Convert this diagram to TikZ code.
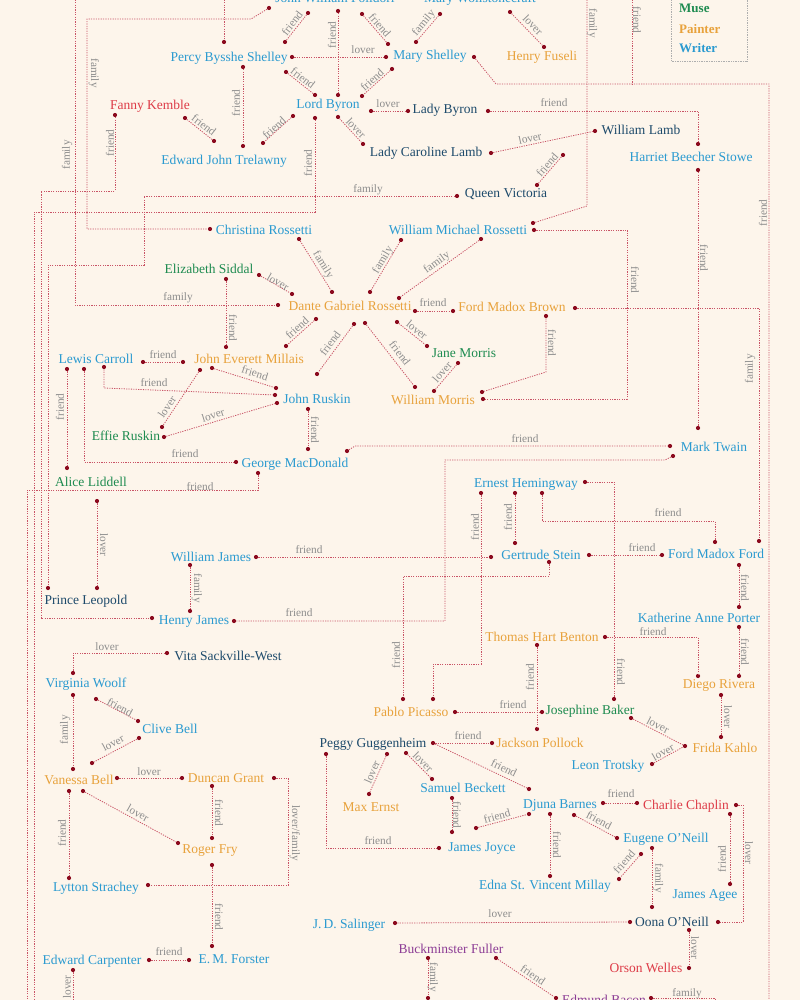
\documentclass[tikz,border=0pt]{standalone}
\usepackage{fontspec}
\setmainfont{Liberation Serif}

\definecolor{cBg}{HTML}{FDF5EB}
\definecolor{cLine}{HTML}{C95466}
\definecolor{cDot}{HTML}{8B0A1E}
\definecolor{cLabel}{HTML}{8C8C8C}
\definecolor{cWriter}{HTML}{2A9AD0}
\definecolor{cPainter}{HTML}{E8A23C}
\definecolor{cMuse}{HTML}{1E8B50}
\definecolor{cNoble}{HTML}{1D4A6B}
\definecolor{cActor}{HTML}{DD3B47}
\definecolor{cBuilder}{HTML}{8C3C95}

\newcommand\mkdot[2]{\node[rdot] (#1) at (#2) {};}

\begin{document}
\begin{tikzpicture}[x=1pt,y=-1pt]

		\useasboundingbox (0,0) rectangle (800,1000);
		\fill[cBg] (0,0) rectangle (800,1000);
		\clip (0,0) rectangle (800,1000);

		\tikzset{person/.style = {anchor = base, inner sep = 0pt, font = \fontsize{13.5}{16}\selectfont}}
		\tikzset{writer/.style = {person, text = cWriter}}
		\tikzset{painter/.style = {person, text = cPainter}}
		\tikzset{muse/.style = {person, text = cMuse}}
		\tikzset{noble/.style = {person, text = cNoble}}
		\tikzset{actor/.style = {person, text = cActor}}
		\tikzset{builder/.style = {person, text = cBuilder}}
		\tikzset{rdot/.style = {circle, fill = cDot, inner sep = 0pt, minimum size = 4.2pt}}
		\tikzset{rel/.style = {draw = cLine, line width = 0.8pt, dash pattern = on 1.2pt off 1.2pt}} % fine dots
		\tikzset{lbl/.style = {text = cLabel, inner sep = 0pt, font = \fontsize{11.3}{13}\selectfont}}
		\tikzset{key/.style = {anchor = base west, inner sep = 0pt, font = \fontsize{13}{15}\selectfont\bfseries}}

		% legend
		\draw[cLabel!70, densely dotted, line width = 0.7pt] (671,-20) rectangle (747,61);
		\node[key, text = cMuse] (kmuse) at (679,13) {Muse};
		\node[key, text = cPainter] (kpainter) at (679,34) {Painter};
		\node[key, text = cWriter] (kwriter) at (679,53) {Writer};

		% people
		\node[writer] (polidori) at (335,3) {John William Polidori};
		\node[writer] (wollstonecraft) at (480,3) {Mary Wollstonecraft};
		\node[writer] (pshelley) at (229,62) {Percy Bysshe Shelley};
		\node[writer] (mshelley) at (430,60) {Mary Shelley};
		\node[painter] (fuseli) at (542,61) {Henry Fuseli};
		\node[writer] (byron) at (328,109) {Lord Byron};
		\node[noble] (ladybyron) at (445,114) {Lady Byron};
		\node[actor] (kemble) at (150,110) {Fanny Kemble};
		\node[writer] (trelawny) at (224,165) {Edward John Trelawny};
		\node[noble] (clamb) at (426,157) {Lady Caroline Lamb};
		\node[noble] (wlamb) at (641,135) {William Lamb};
		\node[writer] (stowe) at (691,162) {Harriet Beecher Stowe};
		\node[noble] (victoria) at (506,198) {Queen Victoria};
		\node[writer] (crossetti) at (264,234) {Christina Rossetti};
		\node[writer] (wmrossetti) at (458,234) {William Michael Rossetti};
		\node[muse] (siddal) at (209,273) {Elizabeth Siddal};
		\node[painter] (dgrossetti) at (350,310) {Dante Gabriel Rossetti};
		\node[painter] (fmbrown) at (512,311) {Ford Madox Brown};
		\node[writer] (carroll) at (96,363) {Lewis Carroll};
		\node[painter] (millais) at (249,363) {John Everett Millais};
		\node[muse] (jmorris) at (464,357) {Jane Morris};
		\node[writer] (ruskin) at (317,403) {John Ruskin};
		\node[painter] (wmorris) at (433,404) {William Morris};
		\node[muse] (effie) at (126,440) {Effie Ruskin};
		\node[writer] (macdonald) at (295,467) {George MacDonald};
		\node[writer] (twain) at (714,451) {Mark Twain};
		\node[muse] (liddell) at (91,486) {Alice Liddell};
		\node[writer] (hemingway) at (526,487) {Ernest Hemingway};
		\node[writer] (wjames) at (211,561) {William James};
		\node[writer] (stein) at (541,559) {Gertrude Stein};
		\node[writer] (fmford) at (716,558) {Ford Madox Ford};
		\node[noble] (leopold) at (86,604) {Prince Leopold};
		\node[writer] (hjames) at (194,624) {Henry James};
		\node[writer] (porter) at (699,622) {Katherine Anne Porter};
		\node[painter] (benton) at (542,641) {Thomas Hart Benton};
		\node[noble] (vita) at (228,660) {Vita Sackville-West};
		\node[writer] (woolf) at (86,687) {Virginia Woolf};
		\node[painter] (rivera) at (719,688) {Diego Rivera};
		\node[painter] (picasso) at (411,716) {Pablo Picasso};
		\node[muse] (baker) at (590,714) {Josephine Baker};
		\node[writer] (clive) at (170,733) {Clive Bell};
		\node[noble] (guggenheim) at (373,747) {Peggy Guggenheim};
		\node[painter] (pollock) at (540,747) {Jackson Pollock};
		\node[painter] (kahlo) at (725,752) {Frida Kahlo};
		\node[writer] (trotsky) at (608,769) {Leon Trotsky};
		\node[painter] (vbell) at (79,784) {Vanessa Bell};
		\node[painter] (grant) at (226,782) {Duncan Grant};
		\node[writer] (beckett) at (463,792) {Samuel Beckett};
		\node[painter] (ernst) at (371,811) {Max Ernst};
		\node[writer] (barnes) at (560,808) {Djuna Barnes};
		\node[actor] (chaplin) at (686,809) {Charlie Chaplin};
		\node[painter] (fry) at (210,853) {Roger Fry};
		\node[writer] (oneill) at (666,842) {Eugene O’Neill};
		\node[writer] (joyce) at (482,851) {James Joyce};
		\node[writer] (millay) at (545,889) {Edna St. Vincent Millay};
		\node[writer] (strachey) at (96,891) {Lytton Strachey};
		\node[writer] (agee) at (705,898) {James Agee};
		\node[writer] (salinger) at (349,928) {J.\,D. Salinger};
		\node[noble] (oona) at (672,926) {Oona O’Neill};
		\node[builder] (fuller) at (451,953) {Buckminster Fuller};
		\node[writer] (forster) at (234,963) {E.\,M. Forster};
		\node[writer] (carpenter) at (92,964) {Edward Carpenter};
		\node[actor] (welles) at (646,972) {Orson Welles};
		\node[builder] (bacon) at (604,1004) {Edmund Bacon};

		% dots
		\mkdot{polA}{269,8} \mkdot{pol1}{308,13} \mkdot{pol2}{338,11} \mkdot{pol3}{362,14}
		\mkdot{mw1}{440,14} \mkdot{mw2}{510,12}
		\mkdot{ps1}{224,42} \mkdot{ps2}{285,42} \mkdot{ps3}{292,57} \mkdot{ps4}{286,72} \mkdot{ps5}{243,67}
		\mkdot{ms1}{388,44} \mkdot{ms2}{416,42} \mkdot{ms3}{386,57} \mkdot{ms4}{392,69} \mkdot{ms5}{474,57}
		\mkdot{fu1}{544,47}
		\mkdot{by1}{338,95} \mkdot{by2}{315,95} \mkdot{by3}{362,96} \mkdot{by4}{371,111}
		\mkdot{by5}{338,117} \mkdot{by6}{293,116} \mkdot{by7}{315,118}
		\mkdot{lb1}{408,111} \mkdot{lb2}{488,111}
		\mkdot{cl1}{363,144} \mkdot{cl2}{491,153}
		\mkdot{wl1}{595,131} \mkdot{wl2}{563,155}
		\mkdot{qv1}{537,185} \mkdot{qv2}{457,196}
		\mkdot{hs1}{698,144} \mkdot{hs2}{698,170}
		\mkdot{et1}{263,143} \mkdot{et2}{243,146} \mkdot{et3}{214,141}
		\mkdot{fk1}{185,118} \mkdot{fk2}{115,115}
		\mkdot{crA}{210,229} \mkdot{cr2}{299,239}
		\mkdot{wm1}{533,223} \mkdot{wm2}{401,240} \mkdot{wm3}{481,239} \mkdot{wm4}{534,230}
		\mkdot{dgA}{278,305} \mkdot{dg1}{332,292} \mkdot{dg2}{370,292} \mkdot{dg3}{399,298}
		\mkdot{dg4}{292,294} \mkdot{dg5}{316,319} \mkdot{dg6}{354,324} \mkdot{dg7}{365,323}
		\mkdot{dg8}{397,322} \mkdot{dg9}{415,311}
		\mkdot{es1}{259,275} \mkdot{es2}{226,279}
		\mkdot{jm1}{226,347} \mkdot{jm2}{286,346} \mkdot{jm3}{183,362} \mkdot{jm4}{212,368} \mkdot{jm5}{200,370}
		\mkdot{jr1}{317,374} \mkdot{jr2}{275,395} \mkdot{jr3}{276,388} \mkdot{jr4}{277,403} \mkdot{jr5}{308,409}
		\mkdot{wo1}{415,387} \mkdot{wo2}{434,391} \mkdot{wo3}{482,392} \mkdot{wo4}{483,399}
		\mkdot{ja1}{427,346} \mkdot{ja2}{458,363}
		\mkdot{fb1}{453,311} \mkdot{fb2}{575,308} \mkdot{fb3}{546,316}
		\mkdot{lc1}{143,362} \mkdot{lc2}{104,367} \mkdot{lc3}{84,369} \mkdot{lc4}{67,369}
		\mkdot{ef1}{162,427} \mkdot{ef2}{164,437}
		\mkdot{gm1}{308,449} \mkdot{gm2}{236,462} \mkdot{gm3}{347,451} \mkdot{gm4}{258,473}
		\mkdot{mt1}{698,428} \mkdot{mt2}{670,446} \mkdot{mt3}{673,456}
		\mkdot{al1}{67,468} \mkdot{al2}{97,501}
		\mkdot{pl1}{48,588} \mkdot{pl2}{97,588}
		\mkdot{hj1}{152,618} \mkdot{hj2}{234,621} \mkdot{hj3}{190,611}
		\mkdot{wj1}{190,565} \mkdot{wj2}{256,557}
		\mkdot{gs1}{491,557} \mkdot{gs2}{515,543} \mkdot{gs3}{589,555} \mkdot{gs4}{549,562}
		\mkdot{eh1}{515,493} \mkdot{eh2}{481,493} \mkdot{eh3}{585,482} \mkdot{eh4}{542,493}
		\mkdot{ff1}{759,541} \mkdot{ff2}{715,542} \mkdot{ff3}{662,555} \mkdot{ff4}{739,565}
		\mkdot{kp1}{739,607} \mkdot{kp2}{739,627}
		\mkdot{dr1}{739,676} \mkdot{dr2}{698,676} \mkdot{dr3}{721,695}
		\mkdot{tb1}{605,637} \mkdot{tb2}{537,645}
		\mkdot{jp1}{537,729} \mkdot{jp2}{492,743}
		\mkdot{pp1}{433,699} \mkdot{pp2}{403,699} \mkdot{pp3}{455,712}
		\mkdot{jb1}{614,699} \mkdot{jb2}{542,712} \mkdot{jb3}{631,718}
		\mkdot{fr1}{721,737} \mkdot{fr2}{685,746}
		\mkdot{lt1}{652,764}
		\mkdot{pg1}{433,743} \mkdot{pg2}{387,754} \mkdot{pg3}{406,753} \mkdot{pg4}{326,754}
		\mkdot{db1}{529,789} \mkdot{db2}{529,814} \mkdot{db3}{550,814} \mkdot{db4}{574,815} \mkdot{db5}{603,803}
		\mkdot{me1}{369,794}
		\mkdot{sb1}{432,779} \mkdot{sb2}{452,798}
		\mkdot{jj1}{439,848} \mkdot{jj2}{452,832} \mkdot{jj3}{476,828}
		\mkdot{em1}{550,876} \mkdot{em2}{619,879}
		\mkdot{eo1}{617,838} \mkdot{eo2}{641,854} \mkdot{eo3}{652,848}
		\mkdot{cc1}{637,803} \mkdot{cc2}{730,814} \mkdot{cc3}{736,805}
		\mkdot{ag1}{730,884}
		\mkdot{oo1}{652,907} \mkdot{oo2}{718,922} \mkdot{oo3}{630,922} \mkdot{oo4}{689,930}
		\mkdot{js1}{395,923} \mkdot{ow1}{689,968}
		\mkdot{bf1}{428,958} \mkdot{bf2}{428,998} \mkdot{bf3}{496,958}
		\mkdot{eb1}{556,998} \mkdot{eb2}{651,998}
		\mkdot{vs1}{167,653}
		\mkdot{vw1}{73,673} \mkdot{vw2}{96,699} \mkdot{vw3}{73,695}
		\mkdot{cb1}{138,721} \mkdot{cb2}{139,738}
		\mkdot{vb1}{73,769} \mkdot{vb2}{92,763} \mkdot{vb3}{117,778} \mkdot{vb4}{83,791} \mkdot{vb5}{69,791}
		\mkdot{dn1}{182,778} \mkdot{dn2}{212,786} \mkdot{dn3}{274,778}
		\mkdot{rf1}{212,838} \mkdot{rf2}{178,843} \mkdot{rf3}{212,865}
		\mkdot{ls1}{69,878} \mkdot{ls2}{148,885}
		\mkdot{fo1}{212,946} \mkdot{fo2}{189,960}
		\mkdot{ec1}{149,960} \mkdot{ec2}{73,970}

		% free ends off the page
		\coordinate (topA) at (75,-5);
		\coordinate (topB) at (224,-5);
		\coordinate (topC) at (587,-5);
		\coordinate (topD) at (632,-5);
		\coordinate (botA) at (27,1005);
		\coordinate (botB) at (34,1005);
		\coordinate (botC) at (769,1005);
		\coordinate (botD) at (73,1005);
		\coordinate (botE) at (715,1005);

		% Romantics
		\draw[rel] (polA) -- (251,19) -- (87,19) -- (87,229) -- (crA) node[lbl, rotate=-90] at (94,73) {family};
		\draw[rel] (topA) -- (75,305) -- (dgA) node[lbl, rotate=90] at (67,155) {family} node[lbl] at (178,298) {family};
		\draw[rel] (topB) -- (ps1);
		\draw[rel] (pol1) -- (ps2) node[lbl, rotate=52] at (292,23) {friend};
		\draw[rel] (pol2) -- (by1) node[lbl, rotate=90] at (332,35) {friend};
		\draw[rel] (pol3) -- (ms1) node[lbl, rotate=-49] at (380,25) {friend};
		\draw[rel] (mw1) -- (ms2) node[lbl, rotate=50] at (424,23) {family};
		\draw[rel] (mw2) -- (fu1) node[lbl, rotate=-46] at (533,25) {lover};
		\draw[rel] (ps3) -- (ms3) node[lbl] at (363,50) {lover};
		\draw[rel] (ps4) -- (by2) node[lbl, rotate=-38] at (303,78) {friend};
		\draw[rel] (ms4) -- (by3) node[lbl, rotate=42] at (372,80) {friend};
		\draw[rel] (ms5) -- (496,84) -- (769,84) -- (botC) node[lbl, rotate=90] at (763,213) {friend};
		\draw[rel] (topD) -- (632,84) node[lbl, rotate=-90] at (637,20) {friend};
		\draw[rel] (topC) -- (587,206) -- (wm1) node[lbl, rotate=-90] at (592,23) {family};
		\draw[rel] (by4) -- (lb1) node[lbl] at (388,104) {lover};
		\draw[rel] (lb2) -- (698,111) -- (hs1) node[lbl] at (554,103) {friend};
		\draw[rel] (by5) -- (cl1) node[lbl, rotate=-47] at (356,128) {lover};
		\draw[rel] (cl2) -- (wl1) node[lbl, rotate=12] at (530,138) {lover};
		\draw[rel] (qv1) -- (wl2) node[lbl, rotate=49] at (547,165) {friend};
		\draw[rel] (hs2) -- (mt1) node[lbl, rotate=-90] at (704,258) {friend};
		\draw[rel] (by6) -- (et1) node[lbl, rotate=42] at (274,128) {friend};
		\draw[rel] (ps5) -- (et2) node[lbl, rotate=90] at (236,103) {friend};
		\draw[rel] (fk1) -- (et3) node[lbl, rotate=-38] at (204,125) {friend};
		\draw[rel] (fk2) -- (115,191) -- (41,191) -- (41,618) -- (hj1) node[lbl, rotate=90] at (110,143) {friend};
		\draw[rel] (by7) -- (315,212) -- (34,212) -- (botB) node[lbl, rotate=90] at (308,163) {friend};
		\draw[rel] (qv2) -- (144,196) -- (144,265) -- (48,265) -- (pl1) node[lbl] at (368,190) {family};

		% Pre-Raphaelites
		\draw[rel] (cr2) -- (dg1) node[lbl, rotate=-58] at (323,265) {family};
		\draw[rel] (wm2) -- (dg2) node[lbl, rotate=59] at (383,260) {family};
		\draw[rel] (wm3) -- (dg3) node[lbl, rotate=36] at (437,263) {family};
		\draw[rel] (es1) -- (dg4) node[lbl, rotate=-30] at (278,282) {lover};
		\draw[rel] (es2) -- (jm1) node[lbl, rotate=-90] at (233,328) {friend};
		\draw[rel] (dg5) -- (jm2) node[lbl, rotate=42] at (297,328) {friend};
		\draw[rel] (dg6) -- (jr1) node[lbl, rotate=53] at (330,343) {friend};
		\draw[rel] (dg7) -- (wo1) node[lbl, rotate=-52] at (400,353) {friend};
		\draw[rel] (dg8) -- (ja1) node[lbl, rotate=-39] at (417,330) {lover};
		\draw[rel] (ja2) -- (wo2) node[lbl, rotate=49] at (442,372) {lover};
		\draw[rel] (dg9) -- (fb1) node[lbl] at (433,303) {friend};
		\draw[rel] (fb2) -- (759,308) -- (ff1) node[lbl, rotate=90] at (750,369) {family};
		\draw[rel] (fb3) -- (546,372) -- (wo3) node[lbl, rotate=-90] at (552,343) {friend};
		\draw[rel] (wm4) -- (627,230) -- (627,399) -- (wo4) node[lbl, rotate=-90] at (635,280) {friend};
		\draw[rel] (lc1) -- (jm3) node[lbl] at (163,355) {friend};
		\draw[rel] (lc2) -- (104,388) -- (jr2) node[lbl] at (154,383) {friend};
		\draw[rel] (jm4) -- (jr3) node[lbl, rotate=-17] at (255,373) {friend};
		\draw[rel] (jm5) -- (ef1) node[lbl, rotate=56] at (167,407) {lover};
		\draw[rel] (ef2) -- (jr4) node[lbl, rotate=17] at (213,415) {lover};
		\draw[rel] (jr5) -- (gm1) node[lbl, rotate=-90] at (315,430) {friend};
		\draw[rel] (lc3) -- (84,462) -- (gm2) node[lbl] at (185,454) {friend};
		\draw[rel] (lc4) -- (al1) node[lbl, rotate=90] at (60,407) {friend};
		\draw[rel] (gm3) -- (355,446) -- (mt2) node[lbl] at (525,439) {friend};
		\draw[rel] (gm4) -- (258,490) -- (27,490) -- (botA) node[lbl] at (200,487) {friend};
		\draw[rel] (al2) -- (pl2) node[lbl, rotate=-90] at (104,545) {lover};

		% Americans in Paris
		\draw[rel] (mt3) -- (665,460) -- (445,460) -- (445,621) -- (hj2) node[lbl] at (299,613) {friend};
		\draw[rel] (wj1) -- (hj3) node[lbl, rotate=-90] at (197,588) {family};
		\draw[rel] (wj2) -- (gs1) node[lbl] at (309,550) {friend};
		\draw[rel] (eh1) -- (gs2) node[lbl, rotate=90] at (508,517) {friend};
		\draw[rel] (eh2) -- (481,664) -- (433,664) -- (pp1) node[lbl, rotate=90] at (475,527) {friend};
		\draw[rel] (eh3) -- (614,482) -- (jb1) node[lbl, rotate=-90] at (621,672) {friend};
		\draw[rel] (eh4) -- (542,521) -- (715,521) -- (ff2) node[lbl] at (668,513) {friend};
		\draw[rel] (gs3) -- (ff3) node[lbl] at (642,548) {friend};
		\draw[rel] (gs4) -- (549,576) -- (403,576) -- (pp2) node[lbl, rotate=90] at (396,655) {friend};
		\draw[rel] (ff4) -- (kp1) node[lbl, rotate=-90] at (745,588) {friend};
		\draw[rel] (kp2) -- (dr1) node[lbl, rotate=-90] at (745,652) {friend};
		\draw[rel] (tb1) -- (698,637) -- (dr2) node[lbl] at (653,632) {friend};
		\draw[rel] (tb2) -- (jp1) node[lbl, rotate=90] at (530,677) {friend};
		\draw[rel] (pp3) -- (jb2) node[lbl] at (513,705) {friend};
		\draw[rel] (dr3) -- (fr1) node[lbl, rotate=-90] at (728,717) {lover};
		\draw[rel] (jb3) -- (fr2) node[lbl, rotate=-27] at (658,725) {lover};
		\draw[rel] (lt1) -- (fr2) node[lbl, rotate=29] at (663,752) {lover};

		% Bloomsbury
		\draw[rel] (vs1) -- (73,653) -- (vw1) node[lbl] at (107,647) {lover};
		\draw[rel] (vw2) -- (cb1) node[lbl, rotate=-28] at (120,707) {friend};
		\draw[rel] (vw3) -- (vb1) node[lbl, rotate=90] at (65,730) {family};
		\draw[rel] (cb2) -- (vb2) node[lbl, rotate=28] at (113,743) {lover};
		\draw[rel] (vb3) -- (dn1) node[lbl] at (149,772) {lover};
		\draw[rel] (dn2) -- (rf1) node[lbl, rotate=-90] at (219,813) {friend};
		\draw[rel] (vb4) -- (rf2) node[lbl, rotate=-29] at (138,813) {lover};
		\draw[rel] (vb5) -- (ls1) node[lbl, rotate=90] at (62,833) {friend};
		\draw[rel] (dn3) -- (288,778) -- (288,885) -- (ls2) node[lbl, rotate=-90] at (295,833) {lover/family};
		\draw[rel] (rf3) -- (fo1) node[lbl, rotate=-90] at (219,917) {friend};
		\draw[rel] (ec1) -- (fo2) node[lbl] at (169,952) {friend};
		\draw[rel] (ec2) -- (botD) node[lbl, rotate=90] at (67,987) {lover};

		% New York
		\draw[rel] (pg1) -- (jp2) node[lbl] at (468,736) {friend};
		\draw[rel] (pg1) -- (db1) node[lbl, rotate=-26] at (504,768) {friend};
		\draw[rel] (pg2) -- (me1) node[lbl, rotate=66] at (372,772) {lover};
		\draw[rel] (pg3) -- (sb1) node[lbl, rotate=-45] at (423,762) {lover};
		\draw[rel] (pg4) -- (326,848) -- (jj1) node[lbl] at (378,841) {friend};
		\draw[rel] (sb2) -- (jj2) node[lbl, rotate=-90] at (457,815) {friend};
		\draw[rel] (jj3) -- (db2) node[lbl, rotate=15] at (497,816) {friend};
		\draw[rel] (db3) -- (em1) node[lbl, rotate=-90] at (557,845) {friend};
		\draw[rel] (db4) -- (eo1) node[lbl, rotate=-28] at (599,820) {friend};
		\draw[rel] (db5) -- (cc1) node[lbl] at (621,794) {friend};
		\draw[rel] (eo2) -- (em2) node[lbl, rotate=49] at (624,862) {friend};
		\draw[rel] (eo3) -- (oo1) node[lbl, rotate=-90] at (658,878) {family};
		\draw[rel] (cc2) -- (ag1) node[lbl, rotate=90] at (722,859) {friend};
		\draw[rel] (cc3) -- (743,805) -- (743,922) -- (oo2) node[lbl, rotate=-90] at (749,853) {lover};
		\draw[rel] (js1) -- (oo3) node[lbl] at (500,914) {lover};
		\draw[rel] (oo4) -- (ow1) node[lbl, rotate=-90] at (695,948) {lover};
		\draw[rel] (bf1) -- (bf2) node[lbl, rotate=-90] at (433,977) {family};
		\draw[rel] (bf3) -- (eb1) node[lbl, rotate=-34] at (533,975) {friend};
		\draw[rel] (eb2) -- (715,998) -- (botE) node[lbl] at (687,994) {family};

\end{tikzpicture}
\end{document}
